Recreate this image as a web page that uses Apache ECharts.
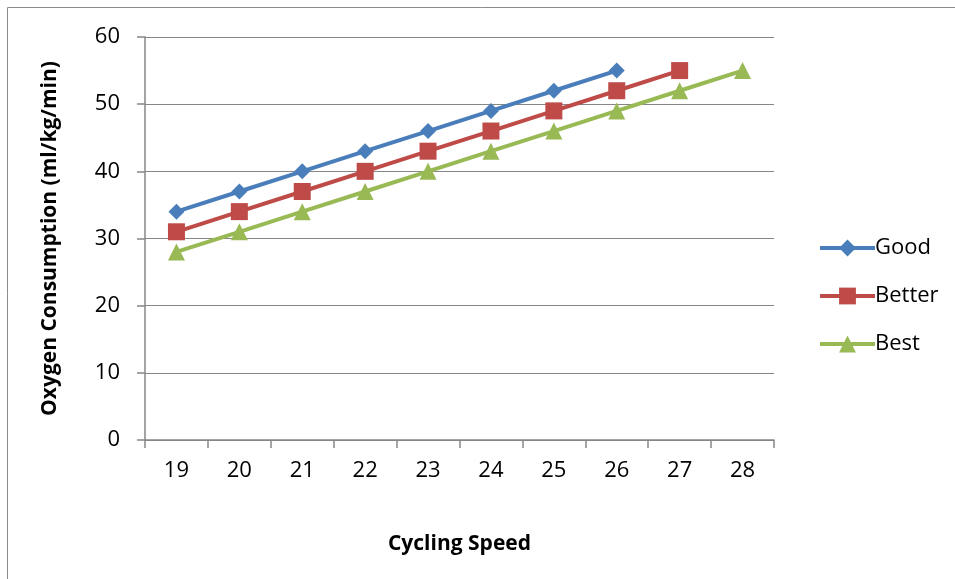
<!DOCTYPE html>
<html><head><meta charset="utf-8">
<script src="https://cdn.jsdelivr.net/npm/echarts@6/dist/echarts.min.js"></script>
<style>html,body{margin:0;padding:0;background:#fff}#c{width:955px;height:579px}</style>
</head><body><div id="c"></div>
<script>
var categories = ['19','20','21','22','23','24','25','26','27','28'];
var good = [34,37,40,43,46,49,52,55,null,null];
var better = [31,34,37,40,43,46,49,52,55,null];
var best = [28,31,34,37,40,43,46,49,52,55];
var yTicks = {min:0, max:60, interval:10};

var font = '"Open Sans", "Noto Sans", sans-serif';
var chart = echarts.init(document.getElementById('c'), null, {renderer:'canvas'});
function ser(name, data, color, symbol, size){
  return {name:name, type:'line', data:data, symbol:symbol, symbolSize:size,
    connectNulls:false,
    lineStyle:{color:color, width:4}, itemStyle:{color:color}, emphasis:{disabled:true}};
}
chart.setOption({
  animation:false,
  backgroundColor:'#fff',
  graphic:[{type:'rect', shape:{x:7.5,y:7.5,width:1000,height:1000}, style:{fill:null, stroke:'#8c8c8c', lineWidth:1}, silent:true}],
  grid:{left:145, top:37, right:181, bottom:139, containLabel:false},
  legend:{orient:'vertical', left:813, top:232, itemGap:26, itemWidth:55, itemHeight:21,
    lineStyle:{width:4},
    textStyle:{fontFamily:font, fontSize:22, color:'#000', padding:[0,0,0,-5]},
    data:['Good','Better','Best']},
  xAxis:{type:'category', data:categories, boundaryGap:true,
    name:'Cycling Speed', nameLocation:'middle', nameGap:94,
    nameTextStyle:{fontFamily:font, fontSize:21, fontWeight:'bold', color:'#000'},
    axisLine:{lineStyle:{color:'#868686', width:1.5}},
    axisTick:{show:true, length:8, alignWithLabel:false, lineStyle:{color:'#868686', width:1.5}},
    axisLabel:{fontFamily:font, fontSize:22, color:'#000', margin:20},
    splitLine:{show:false}},
  yAxis:{type:'value', min:yTicks.min, max:yTicks.max, interval:yTicks.interval,
    name:'Oxygen Consumption (ml/kg/min)', nameLocation:'middle', nameGap:84, nameRotate:90,
    nameTextStyle:{fontFamily:font, fontSize:21, fontWeight:'bold', color:'#000'},
    axisLine:{show:true, lineStyle:{color:'#868686', width:1.5}},
    axisTick:{show:true, length:8, lineStyle:{color:'#868686', width:1.5}},
    axisLabel:{fontFamily:font, fontSize:22, color:'#000', margin:25},
    splitLine:{show:true, lineStyle:{color:'#868686', width:1.2}}},
  series:[
    ser('Good', good, '#4A7EBB', 'diamond', 16),
    ser('Better', better, '#BE4B48', 'rect', 17),
    ser('Best', best, '#98B954', 'triangle', 17)
  ]
});
</script></body></html>
